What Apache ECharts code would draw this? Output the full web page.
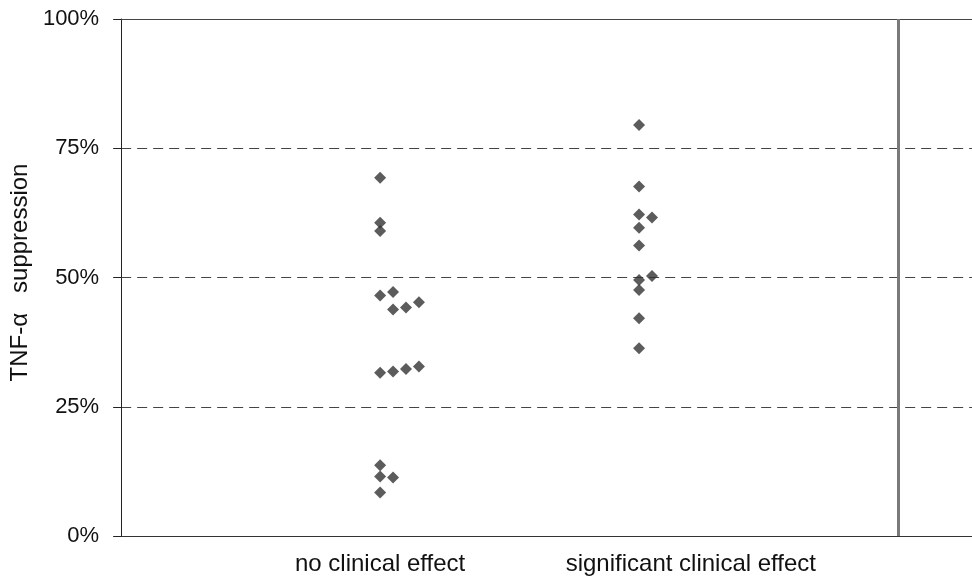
<!DOCTYPE html>
<html>
<head>
<meta charset="utf-8">
<script src="https://cdn.jsdelivr.net/npm/echarts@6/dist/echarts.min.js"></script>
<style>
  html, body { margin: 0; padding: 0; background: #fff; }
  #chart { width: 972px; height: 582px; }
</style>
</head>
<body>
<div id="chart"></div>
<script>
const categories = ['no clinical effect', 'significant clinical effect'];
const categoryLabelPos = [1.0, 2.2];
const yTicks = [0, 25, 50, 75, 100];

const noEffectX = [1, 1, 1, 1, 1.05, 1.05, 1.1, 1.15, 1, 1.05, 1.1, 1.15, 1, 1, 1.05, 1];
const noEffectY = [69.3, 60.6, 59.0, 46.5, 47.2, 43.8, 44.2, 45.2, 31.6, 31.8, 32.3, 32.8, 13.7, 11.5, 11.3, 8.4];

const sigEffectX = [2, 2, 2, 2.05, 2, 2, 2, 2.05, 2, 2, 2];
const sigEffectY = [79.5, 67.6, 62.2, 61.6, 59.6, 56.2, 49.5, 50.3, 47.6, 42.1, 36.3];

const pairs = (xs, ys) => xs.map((x, i) => [x, ys[i]]);
const font = '"Liberation Sans", Arial, sans-serif';

const chart = echarts.init(document.getElementById('chart'), null, { renderer: 'canvas' });
chart.setOption({
  animation: false,
  backgroundColor: '#fff',
  grid: { left: 121, right: 0, top: 19, bottom: 46, containLabel: false },
  xAxis: {
    type: 'value',
    min: 0,
    max: 3.2857,
    interval: 0.1,
    axisLine: { show: true, lineStyle: { color: '#333', width: 1 } },
    axisTick: { show: false },
    splitLine: { show: false },
    axisLabel: {
      show: true,
      margin: 16,
      fontSize: 24,
      fontFamily: font,
      color: '#111',
      showMinLabel: true,
      showMaxLabel: false,
      formatter: function (v) {
        const r = Math.round(v * 10);
        for (let i = 0; i < categoryLabelPos.length; i++) {
          if (Math.round(categoryLabelPos[i] * 10) === r) return categories[i];
        }
        return '';
      }
    }
  },
  yAxis: {
    type: 'value',
    min: yTicks[0],
    max: yTicks[yTicks.length - 1],
    interval: 25,
    name: 'TNF-α   suppression',
    nameLocation: 'middle',
    nameRotate: 90,
    nameGap: 88,
    nameTextStyle: { fontSize: 24, fontFamily: font, color: '#111', padding: [0, 0, 0, 10] },
    axisLine: { show: true, lineStyle: { color: '#222', width: 1 } },
    axisTick: { show: true, inside: false, length: 8, lineStyle: { color: '#222' } },
    axisLabel: {
      margin: 22,
      fontSize: 22,
      fontFamily: font,
      color: '#111',
      formatter: '{value}%'
    },
    splitLine: { show: true, lineStyle: { color: '#444', type: [10, 6], width: 1 } }
  },
  series: [
    {
      type: 'scatter',
      name: categories[0],
      data: pairs(noEffectX, noEffectY),
      symbol: 'diamond',
      symbolSize: 12,
      itemStyle: { color: '#333' },
      markLine: {
        silent: true,
        symbol: 'none',
        label: { show: false },
        animation: false,
        data: [
          { yAxis: 100, lineStyle: { color: '#444', type: 'solid', width: 1 } },
          { xAxis: 3, lineStyle: { color: '#7a7a7a', type: 'solid', width: 3 } }
        ]
      }
    },
    {
      type: 'scatter',
      name: categories[1],
      data: pairs(sigEffectX, sigEffectY),
      symbol: 'diamond',
      symbolSize: 12,
      itemStyle: { color: '#333' }
    }
  ]
});
</script>
</body>
</html>
